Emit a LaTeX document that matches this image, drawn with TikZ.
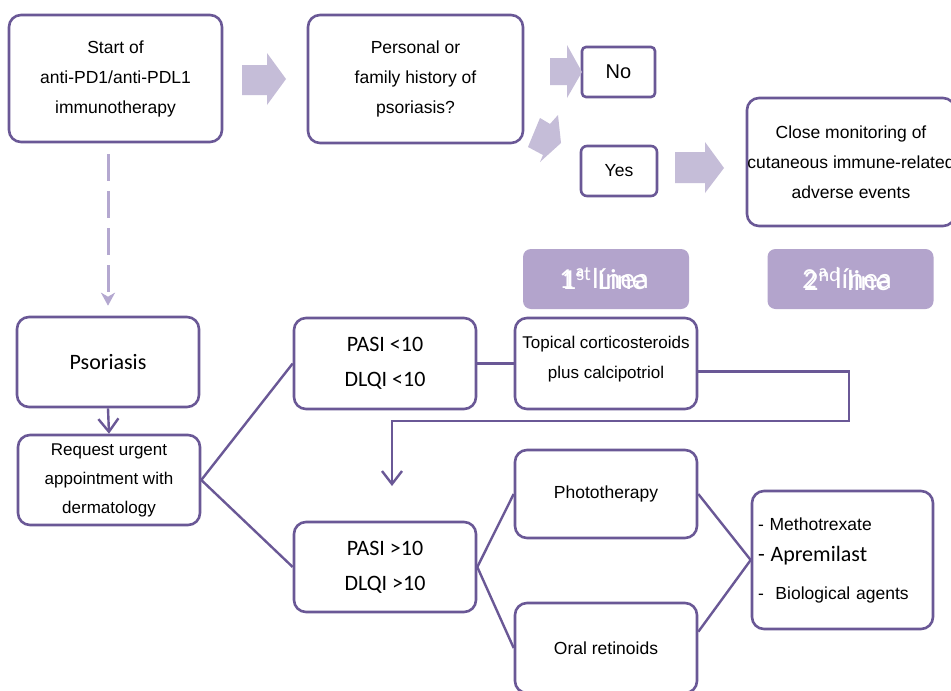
\documentclass[tikz,border=0pt]{standalone}
\usepackage{fontspec}
\setmainfont{Liberation Sans}
\newfontfamily\carl{Carlito}
\usetikzlibrary{arrows.meta}
\definecolor{boxc}{HTML}{6A5896}
\definecolor{arrc}{HTML}{C5BDD8}
\definecolor{labc}{HTML}{B3A4CC}
\definecolor{dashc}{HTML}{B4A8D0}
\begin{document}
\begin{tikzpicture}[x=1pt,y=-1pt,
  box/.style={draw=boxc, line width=2.6pt, rounded corners=12pt, fill=white, align=center, inner sep=0pt, font=\fontsize{17.5}{30}\selectfont},
  sqbox/.style={box, rounded corners=4pt},
  cbox/.style={box, font=\carl\fontsize{22}{35}\selectfont},
  labbox/.style={fill=labc, rounded corners=8pt, inner sep=0pt, minimum width=166pt, minimum height=60pt},
  labtxt/.style={text=white, inner sep=0pt, font=\carl\fontsize{29}{30}\selectfont},
  blockarr/.style={fill=arrc},
  conn/.style={draw=boxc, line width=2.4pt},
  barb/.style={-{Straight Barb[length=13pt,width=20pt]}},
  dasharr/.style={draw=dashc, line width=3pt, dash pattern=on 27pt off 10pt, -{Stealth[length=13pt,width=14pt,inset=4pt]}}
]
\useasboundingbox (0,0) rectangle (951,691);
\clip (0,0) rectangle (951,691);
\fill[white] (0,0) rectangle (951,691);

% top row
\node[box, minimum width=213pt, minimum height=127pt] (start) at (115.5,78.5) {Start of\\anti-PD1/anti-PDL1\\immunotherapy};
\node[box, minimum width=215pt, minimum height=128pt] (pers) at (415.5,79) {Personal or\\family history of\\psoriasis?};
\node[sqbox, minimum width=73pt, minimum height=50pt, font=\fontsize{20}{24}\selectfont] (no) at (618.5,72) {No};
\node[box, rounded corners=6pt, minimum width=76pt, minimum height=50pt] (yes) at (619,171) {Yes};
\node[box, minimum width=208pt, minimum height=128pt] (close) at (851,162) {Close monitoring of\\cutaneous immune-related\\adverse events};

% block arrows
\fill[blockarr] (242,65) -- (267,65) -- (267,53) -- (286,79) -- (267,105) -- (267,95) -- (242,95) -- cycle;
\fill[blockarr] (550,58) -- (567,58) -- (567,45) -- (582,72) -- (567,98) -- (567,85) -- (550,85) -- cycle;
\fill[blockarr] (540,118) -- (550,124) -- (558,115) -- (561,143) -- (540,162) -- (543,155) -- (528,147) -- cycle;
\fill[blockarr] (675,152) -- (705,152) -- (705,142) -- (724,168) -- (705,193) -- (705,183) -- (675,183) -- cycle;

% line labels
\node[labbox] (l1) at (606,279) {};
\node[labtxt] (l1a) at (604,279) {1\textsuperscript{st} Line};
\node[labtxt] (l1b) at (604,279) {1ª línea};
\node[labbox] (l2) at (850.5,279) {};
\node[labtxt] (l2a) at (847,279) {2\textsuperscript{nd} line};
\node[labtxt] (l2b) at (847,279) {2ª línea};

% lower part
\node[box, minimum width=182pt, minimum height=90pt, font=\carl\fontsize{22}{30}\selectfont] (psor) at (108,362) {Psoriasis};
\node[box, minimum width=182pt, minimum height=90pt, font=\fontsize{17}{29}\selectfont] (req) at (109,480) {Request urgent\\appointment with\\dermatology};
\node[cbox, minimum width=182pt, minimum height=91pt] (pasi1) at (385,363.5) {PASI <10\\DLQI <10};
\node[box, minimum width=182pt, minimum height=91pt, font=\fontsize{17}{30}\selectfont] (top) at (606,363.5) {Topical corticosteroids\\plus calcipotriol\\[-17pt]};
\node[cbox, minimum width=182pt, minimum height=90pt] (pasi2) at (385,567) {PASI >10\\DLQI >10};
\node[box, minimum width=182pt, minimum height=88pt] (photo) at (606,494) {Phototherapy};
\node[box, minimum width=182pt, minimum height=90pt] (oral) at (606,648) {Oral retinoids};
\node[box, minimum width=181pt, minimum height=138pt, align=left, text width=169pt] (meth) at (842.5,560)
  {- Methotrexate\\[1pt]{\carl\fontsize{22}{30}\selectfont - Apremilast}\\[8pt]-\ \ Biological agents};

% connectors
\draw[dasharr] ([xshift=-7.5pt,yshift=-11pt]start.south) -- ([yshift=10pt]psor.north);
\draw[conn, barb] (psor.south) -- (req.north);
\draw[conn] (req.east) -- (pasi1.west);
\draw[conn] (req.east) -- (pasi2.west);
\draw[conn] (pasi1.east) -- (top.west);
\coordinate (br2) at (849,421);
\coordinate (br3) at (392,421);
\coordinate (br4) at (392,486);
\draw[conn, barb] (top.-5) -| (br2) -- (br3) -- (br4);
\draw[conn] (pasi2.east) -- (photo.west);
\draw[conn] (pasi2.east) -- (oral.west);
\draw[conn] (photo.east) -- (meth.west);
\draw[conn] (oral.10) -- (meth.west);
\end{tikzpicture}
\end{document}
